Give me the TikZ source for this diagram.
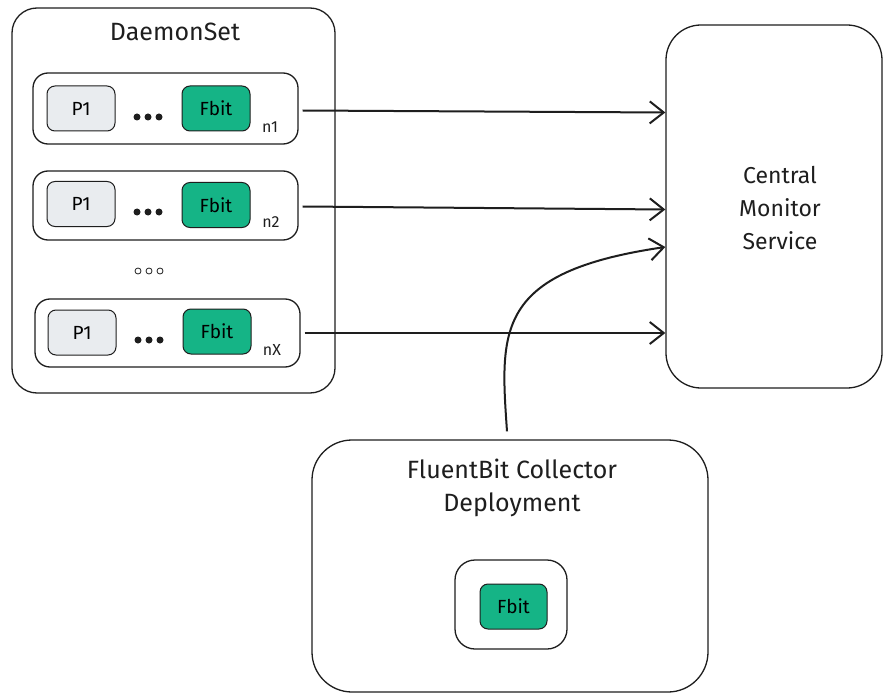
\documentclass[tikz,border=0pt]{standalone}
\usepackage{fontspec}
\setmainfont{Fira Sans}
\usetikzlibrary{arrows.meta}
\definecolor{ink}{HTML}{1E1E1E}
\definecolor{podgrey}{HTML}{E9ECEF}
\definecolor{fbgreen}{HTML}{15B486}
\begin{document}
\begin{tikzpicture}[x=1pt,y=-1pt,
  box/.style={draw=ink,line width=1.3pt,rounded corners=#1,inner sep=0pt},
  box/.default=15pt,
  pod/.style={draw=ink,line width=1pt,rounded corners=8pt,fill=podgrey,minimum width=68pt,minimum height=45pt,font=\fontsize{19}{19}\selectfont},
  fbit/.style={draw=ink,line width=1pt,rounded corners=8pt,fill=fbgreen,minimum width=68pt,minimum height=45pt,font=\fontsize{19}{19}\selectfont},
  lbl/.style={text=ink,font=\fontsize{25}{30}\selectfont,align=center},
  small/.style={text=ink,font=\fontsize{16}{16}\selectfont},
  dot/.style={circle,fill=ink,inner sep=0pt,minimum size=7pt},
  odot/.style={circle,draw=ink,line width=0.8pt,inner sep=0pt,minimum size=6pt},
  conn/.style={draw=ink,line width=2pt,-{Straight Barb[length=14pt,width=22pt,line width=2pt]}}
]
\useasboundingbox (0,0) rectangle (883,695);
\fill[white] (0,0) rectangle (883,695);

% DaemonSet
\node[box=25pt,minimum width=323pt,minimum height=385pt] (ds) at (173.5,200.5) {};
\node[lbl] (dslabel) at (175,32) {DaemonSet};

% row 1
\node[box,minimum width=265pt,minimum height=71pt] (r1) at (165.5,108.5) {};
\node[pod] (p1a) at (81,108.5) {P1};
\node[fbit] (fb1) at (216,108.5) {Fbit};
\node[dot] (d1a) at (137,117) {};
\node[dot] (d1b) at (148,117) {};
\node[dot] (d1c) at (159,117) {};
\node[small] (n1) at (270,127) {n1};

% row 2
\node[box,minimum width=265pt,minimum height=69pt] (r2) at (165.5,205.5) {};
\node[pod] (p1b) at (81,204) {P1};
\node[fbit] (fb2) at (216,205) {Fbit};
\node[dot] (d2a) at (137,212) {};
\node[dot] (d2b) at (148,212) {};
\node[dot] (d2c) at (159,212) {};
\node[small] (n2) at (271,222) {n2};

% ellipsis between rows
\node[odot] (o1) at (138,271) {};
\node[odot] (o2) at (149,271) {};
\node[odot] (o3) at (160,271) {};

% row 3
\node[box,minimum width=265pt,minimum height=68pt] (r3) at (167.5,333) {};
\node[pod] (p1c) at (82,332.5) {P1};
\node[fbit] (fb3) at (217,331.5) {Fbit};
\node[dot] (d3a) at (138,340) {};
\node[dot] (d3b) at (149,340) {};
\node[dot] (d3c) at (160,340) {};
\node[small] (nx) at (272,350) {nX};

% Central monitor service
\node[box=35pt,minimum width=216pt,minimum height=363pt] (cms) at (774,206.5) {};
\node[lbl,font=\fontsize{23}{33}\selectfont] (cmslabel) at (780,208) {Central\\Monitor\\Service};

% FluentBit collector deployment
\node[box=40pt,minimum width=396pt,minimum height=252pt] (fbc) at (510,566) {};
\node[lbl,font=\fontsize{25}{33}\selectfont] (fbclabel) at (512,488) {FluentBit Collector\\Deployment};
\node[box=20pt,minimum width=112pt,minimum height=89pt] (inner) at (511,604.5) {};
\node[fbit,minimum width=67pt] (fbd) at (513.5,606.5) {Fbit};

% connectors
\draw[conn] ([xshift=4pt,yshift=-2pt]r1.east) -- ([yshift=-4pt]r1.east -| cms.west);
\draw[conn] ([xshift=4pt,yshift=-1pt]r2.east) -- ([yshift=-4pt]r2.east -| cms.west);
\draw[conn] ([xshift=4pt]r3.east) -- (r3.east -| cms.west);
\coordinate (cin) at (cms.west |- 0,247);
\draw[conn] ([xshift=-3pt,yshift=8pt]fbc.north) .. controls (500,330) and (495,272) .. (cin);
\end{tikzpicture}
\end{document}
